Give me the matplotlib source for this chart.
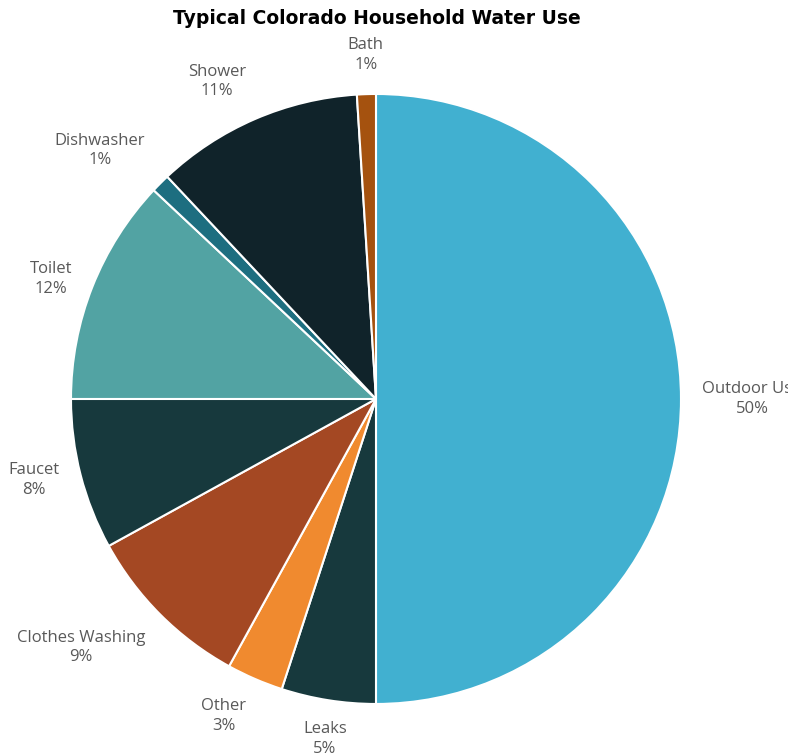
import numpy as np
import matplotlib.pyplot as plt

# typical Colorado household water use, share in percent
categories = ['Outdoor Use', 'Leaks', 'Other', 'Clothes Washing', 'Faucet',
              'Toilet', 'Dishwasher', 'Shower', 'Bath']
shares = [50, 5, 3, 9, 8, 12, 1, 11, 1]
colors = ['#41B0D0', '#17393D', '#F08A2F', '#A44823', '#17393D',
          '#52A3A3', '#1D6E80', '#10232A', '#A5520F']

fig = plt.figure(figsize=(7.88, 7.56), dpi=100)
ax = fig.add_axes([0.0901, 0.0688, 0.7741, 0.8069])

wedges, _ = ax.pie(shares, colors=colors, startangle=90, counterclock=False,
                   wedgeprops=dict(edgecolor='white', linewidth=1.5))
ax.set_xlim(-1, 1)
ax.set_ylim(-1, 1)

# labels just outside each wedge, anchored by side
for w, name, v in zip(wedges, categories, shares):
    ang = np.deg2rad((w.theta1 + w.theta2) / 2)
    c, s = np.cos(ang), np.sin(ang)
    ha = 'left' if c > 0.3 else ('right' if c < -0.3 else 'center')
    va = 'bottom' if s > 0.5 else ('top' if s < -0.5 else 'center')
    ax.text(1.07 * c, 1.07 * s, '%s\n%d%%' % (name, v), ha=ha, va=va,
            multialignment='center', fontsize=12, color='#595959',
            family='Open Sans', linespacing=1.3, clip_on=False)

fig.text(0.478, 0.975, 'Typical Colorado Household Water Use', ha='center',
         va='center', fontsize=13.5, fontweight='bold', color='black')

fig.savefig('out.png', dpi=100)
